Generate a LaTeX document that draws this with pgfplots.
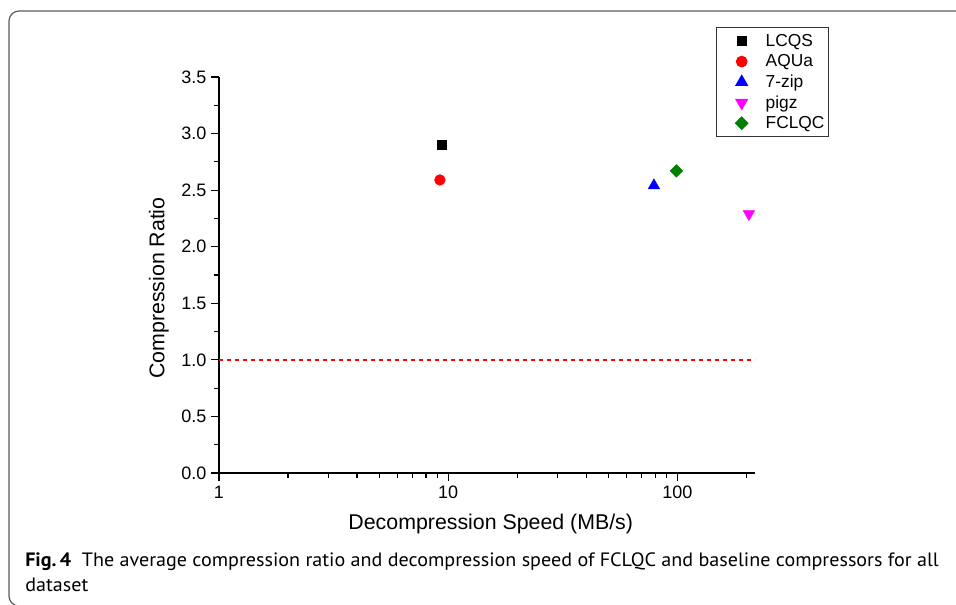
\documentclass[border=0pt]{standalone}
\usepackage{fontspec}
\setmainfont{Liberation Sans}
\newfontfamily\capfont{PT Sans}[FakeStretch=1.04]
\usepackage{pgfplots}
\pgfplotsset{compat=1.18}
\definecolor{orgGreen}{RGB}{0,128,0}
\definecolor{orgMagenta}{RGB}{255,0,255}
\definecolor{orgRed}{RGB}{255,0,0}
\definecolor{orgBlue}{RGB}{0,0,255}
\definecolor{frameGray}{RGB}{90,90,90}
\begin{document}
\begin{tikzpicture}
\useasboundingbox (0,0) rectangle (717pt,453.75pt);
% rounded frame of the figure box
\draw[frameGray, line width=0.9pt, rounded corners=7.5pt]
  (730pt,445.5pt) -- (6.75pt,445.5pt) -- (6.75pt,-0.8pt) -- (730pt,-0.8pt);
\begin{axis}[
    at={(164.25pt,99pt)}, anchor=south west,
    scale only axis, width=402pt, height=297pt,
    xmode=log, xmin=1, xmax=218,
    ymin=0, ymax=3.5,
    axis lines*=left,
    axis line style={line width=1pt},
    tick align=outside,
    major tick length=6pt, minor tick length=3.5pt,
    tick style={black, line width=0.8pt},
    xtick={1,10,100}, xticklabels={1,10,100},
    minor xtick={2,3,4,5,6,7,8,9,20,30,40,50,60,70,80,90,200},
    ytick={0,0.5,...,3.5},
    yticklabels={0.0,0.5,1.0,1.5,2.0,2.5,3.0,3.5},
    minor ytick={0.25,0.75,...,3.25},
    ticklabel style={font=\fontsize{13.5pt}{16pt}\selectfont},
    xlabel={Decompression Speed (MB/s)},
    ylabel={Compression Ratio},
    label style={font=\fontsize{16pt}{19pt}\selectfont},
    xlabel style={at={(axis description cs:0.507,-0.13)}, anchor=center},
    ylabel style={at={(axis description cs:-0.112,0.467)}, anchor=center},
    clip=false,
    legend image code/.code={%
        \path[draw=none, fill=none] (0pt,-3pt) rectangle (29.75pt,3pt);
        \draw[mark repeat=2,mark phase=2,#1] plot coordinates {(0pt,0pt)(16.75pt,0pt)(33.5pt,0pt)};},
    legend style={at={(1.138,1.126)}, anchor=north east,
        draw=black!80, line width=0.8pt,
        font=\fontsize{13pt}{15pt}\selectfont,
        nodes={inner xsep=1pt},
        column sep=4pt,
        row sep=0.6pt, inner xsep=2pt, inner ysep=3pt,
        cells={anchor=west}},
]
\addplot[only marks, mark=square*, mark size=3.3pt, black] coordinates {(9.4,2.90)};
\addlegendentry{LCQS}
\addplot[only marks, mark=*, mark size=4pt, orgRed] coordinates {(9.2,2.59)};
\addlegendentry{AQUa}
\addplot[only marks, mark=triangle*, mark size=5pt, orgBlue] coordinates {(79,2.54)};
\addlegendentry{7-zip}
\addplot[only marks, mark=triangle*, mark size=5pt, orgMagenta, mark options={rotate=180}] coordinates {(205,2.29)};
\addlegendentry{pigz}
\addplot[only marks, mark=square*, mark size=3.3pt, orgGreen, mark options={rotate=45}] coordinates {(99,2.67)};
\addlegendentry{FCLQC}
% reference line at ratio 1 (no legend entry)
\addplot[orgRed, mark=none, line width=1pt, dashed] coordinates {(1,1) (218,1)};
\end{axis}
\node[anchor=base west, inner sep=0pt, font=\capfont\fontsize{14.5pt}{17pt}\selectfont]
  at (18.75pt,28.5pt) {\textbf{Fig.\,4}\hspace{0.55em}The average compression ratio and decompression speed of FCLQC and baseline compressors for all};
\node[anchor=base west, inner sep=0pt, font=\capfont\fontsize{14.5pt}{17pt}\selectfont]
  at (18.75pt,9.9pt) {dataset};
\end{tikzpicture}
\end{document}
